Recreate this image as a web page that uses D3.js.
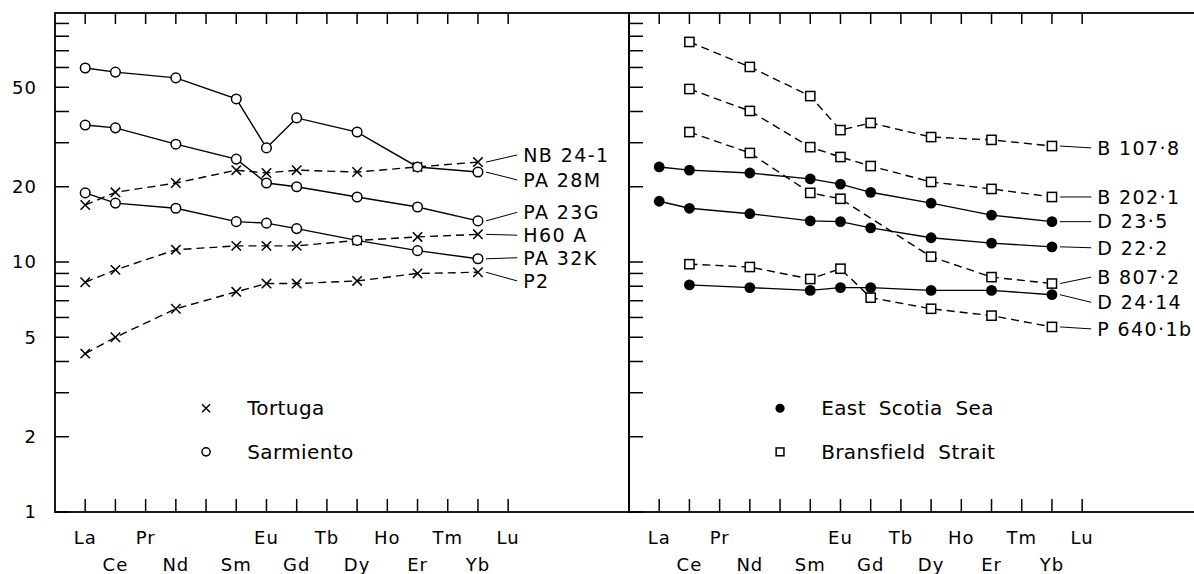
<!DOCTYPE html>
<html lang="en">
<head>
<meta charset="UTF-8">
<title>REE patterns</title>
<script src="https://d3js.org/d3.v7.min.js"></script>
<style>
    body { margin: 0; background: #fff; }
    svg { display: block; font-family: "DejaVu Sans", sans-serif; }
    .frame { fill: none; stroke: #000; stroke-width: 1.8px; }
    .tick { stroke: #000; stroke-width: 1.5px; }
    .line { fill: none; stroke: #000; stroke-width: 1.4px; }
    .dashed { stroke-dasharray: 8 5; }
    .leader { stroke: #000; stroke-width: 1px; }
    .xlab { font-size: 18px; letter-spacing: 1px; }
    .slab { font-size: 19px; letter-spacing: 1.4px; }
    .leg { font-size: 20px; letter-spacing: 0.4px; word-spacing: 6px; }
</style>
</head>
<body>
<div id="chart"></div>
<script>
    // element positions on the x axis (Pm has a tick but no label)
    const elements = ["La", "Ce", "Pr", "Nd", "Pm", "Sm", "Eu", "Gd", "Tb", "Dy", "Ho", "Er", "Tm", "Yb", "Lu"];
    const labelsTop = ["La", "Pr", "Eu", "Tb", "Ho", "Tm", "Lu"];
    const labelsBottom = ["Ce", "Nd", "Sm", "Gd", "Dy", "Er", "Yb"];
    const yLabels = [1, 2, 5, 10, 20, 50];

    // measured elements, values normalised to chondrite
    const ree = ["La", "Ce", "Nd", "Sm", "Eu", "Gd", "Dy", "Er", "Yb"];

    // Tortuga (crosses, dashed)
    const nb241 = [16.9, 19.0, 20.7, 23.3, 22.7, 23.3, 22.9, 24.0, 25.1];
    const h60a  = [8.3, 9.3, 11.2, 11.6, 11.6, 11.6, 12.2, 12.6, 12.9];
    const p2    = [4.3, 5.0, 6.5, 7.6, 8.2, 8.2, 8.4, 9.0, 9.1];
    // Sarmiento (open circles, solid)
    const pa28m = [59.7, 57.5, 54.5, 44.9, 28.6, 37.7, 33.1, 24.0, 22.9];
    const pa23g = [35.3, 34.4, 29.6, 25.8, 20.7, 20.0, 18.2, 16.6, 14.6];
    const pa32k = [18.9, 17.2, 16.4, 14.5, 14.3, 13.6, 12.2, 11.1, 10.3];
    // East Scotia Sea (filled circles, solid)
    const d235  = [24.0, 23.3, 22.7, 21.5, 20.5, 19.0, 17.2, 15.4, 14.5];
    const d222  = [17.5, 16.4, 15.6, 14.6, 14.5, 13.7, 12.5, 11.9, 11.5];
    const d2414 = [null, 8.1, 7.9, 7.7, 7.9, 7.9, 7.7, 7.7, 7.4];
    // Bransfield Strait (open squares, dashed)
    const b1078  = [null, 75.9, 60.3, 46.1, 33.7, 36.0, 31.6, 30.8, 29.1];
    const b2021  = [null, 49.2, 40.2, 28.8, 26.3, 24.2, 20.9, 19.6, 18.2];
    const b8072  = [null, 33.1, 27.3, 18.9, 17.9, null, 10.5, 8.7, 8.2];
    const p6401b = [null, 9.8, 9.55, 8.55, 9.4, 7.2, 6.5, 6.1, 5.5];

    const leftSeries = [
        { name: "NB 24-1", values: nb241, mark: "cross", dashed: true, labelAt: 26.8 },
        { name: "PA 28M", values: pa28m, mark: "circle", dashed: false, labelAt: 21.3 },
        { name: "PA 23G", values: pa23g, mark: "circle", dashed: false, labelAt: 15.8 },
        { name: "H60 A", values: h60a, mark: "cross", dashed: true, labelAt: 12.8 },
        { name: "PA 32K", values: pa32k, mark: "circle", dashed: false, labelAt: 10.4 },
        { name: "P2", values: p2, mark: "cross", dashed: true, labelAt: 8.4 }
    ];
    const rightSeries = [
        { name: "B 107·8", values: b1078, mark: "square", dashed: true, labelAt: 28.6 },
        { name: "B 202·1", values: b2021, mark: "square", dashed: true, labelAt: 18.2 },
        { name: "D 23·5", values: d235, mark: "dot", dashed: false, labelAt: 14.5 },
        { name: "D 22·2", values: d222, mark: "dot", dashed: false, labelAt: 11.4 },
        { name: "B 807·2", values: b8072, mark: "square", dashed: true, labelAt: 8.7 },
        { name: "D 24·14", values: d2414, mark: "dot", dashed: false, labelAt: 6.9 },
        { name: "P 640·1b", values: p6401b, mark: "square", dashed: true, labelAt: 5.4 }
    ];
    const leftLegend = [{ mark: "cross", text: "Tortuga", at: 2.6 }, { mark: "circle", text: "Sarmiento", at: 1.74 }];
    const rightLegend = [{ mark: "dot", text: "East Scotia Sea", at: 2.6 }, { mark: "square", text: "Bransfield Strait", at: 1.74 }];

    const W = 1194, H = 574;
    const plotTop = 13, plotBottom = 512, panelW = 574;

    const svg = d3.select("#chart").append("svg")
        .attr("width", W).attr("height", H);

    const y = d3.scaleLog().domain([1, 100]).range([plotBottom, plotTop - 1]);
    const yTicks = d3.range(1, 10).concat(d3.range(10, 100, 10));

    function drawMark(g, type, cx, cy, small) {
        const s = small ? 0.85 : 1;
        if (type === "cross") {
            const r = 4.7 * s;
            g.append("path")
                .attr("d", `M${cx - r},${cy - r}L${cx + r},${cy + r}M${cx - r},${cy + r}L${cx + r},${cy - r}`)
                .attr("stroke", "#000").attr("stroke-width", 1.5);
        } else if (type === "circle") {
            g.append("circle").attr("cx", cx).attr("cy", cy).attr("r", 4.8 * s)
                .attr("fill", "#fff").attr("stroke", "#000").attr("stroke-width", 1.5);
        } else if (type === "dot") {
            g.append("circle").attr("cx", cx).attr("cy", cy).attr("r", 5.4 * s)
                .attr("fill", "#000");
        } else {
            const h = 4.6 * s;
            g.append("rect").attr("x", cx - h).attr("y", cy - h).attr("width", 2 * h).attr("height", 2 * h)
                .attr("fill", "#fff").attr("stroke", "#000").attr("stroke-width", 1.5);
        }
    }

    function drawPanel(x0, series, legend, showYLabels) {
        const x = d3.scaleLinear().domain([-1, 18]).range([x0, x0 + panelW]);
        const g = svg.append("g");

        g.append("rect").attr("class", "frame")
            .attr("x", x0).attr("y", plotTop).attr("width", panelW).attr("height", plotBottom - plotTop);

        // y ticks pointing inwards
        g.selectAll(".ytick").data(yTicks).enter().append("line")
            .attr("class", "tick")
            .attr("x1", x0).attr("x2", x0 + 14)
            .attr("y1", d => y(d)).attr("y2", d => y(d));

        if (showYLabels) {
            g.selectAll(".ylab").data(yLabels).enter().append("text")
                .attr("x", x0 - 18).attr("y", d => y(d)).attr("dy", "0.36em")
                .attr("text-anchor", "end").attr("font-size", 18).attr("letter-spacing", 1)
                .text(d => d);
        }

        // x ticks top and bottom
        g.selectAll(".xb").data(elements).enter().append("line")
            .attr("class", "tick")
            .attr("x1", (d, i) => x(i)).attr("x2", (d, i) => x(i))
            .attr("y1", plotBottom).attr("y2", plotBottom - 13);
        g.selectAll(".xt").data(elements).enter().append("line")
            .attr("class", "tick")
            .attr("x1", (d, i) => x(i)).attr("x2", (d, i) => x(i))
            .attr("y1", plotTop).attr("y2", plotTop + 11);

        g.selectAll(".lt").data(labelsTop).enter().append("text")
            .attr("class", "xlab")
            .attr("x", d => x(elements.indexOf(d))).attr("y", 544)
            .attr("text-anchor", "middle").text(d => d);
        g.selectAll(".lb").data(labelsBottom).enter().append("text")
            .attr("class", "xlab")
            .attr("x", d => x(elements.indexOf(d))).attr("y", 571)
            .attr("text-anchor", "middle").text(d => d);

        const line = d3.line()
            .x(d => x(elements.indexOf(d.el)))
            .y(d => y(d.v));

        series.forEach(s => {
            const pts = ree.map((el, i) => ({ el, v: s.values[i] })).filter(d => d.v != null);
            g.append("path").datum(pts)
                .attr("class", "line" + (s.dashed ? " dashed" : ""))
                .attr("d", line);
        });

        series.forEach(s => {
            ree.forEach((el, i) => {
                if (s.values[i] == null) return;
                drawMark(g, s.mark, x(elements.indexOf(el)), y(s.values[i]));
            });
            const last = s.values[s.values.length - 1];
            const xe = x(elements.indexOf("Yb"));
            g.append("line").attr("class", "leader")
                .attr("x1", xe + 8).attr("y1", y(last))
                .attr("x2", x(14.3)).attr("y2", y(s.labelAt));
            g.append("text").attr("class", "slab")
                .attr("x", x(14.5)).attr("y", y(s.labelAt)).attr("dy", "0.36em")
                .text(s.name);
        });

        legend.forEach(l => {
            drawMark(g, l.mark, x(4), y(l.at), true);
            g.append("text").attr("class", "leg")
                .attr("x", x(5.36)).attr("y", y(l.at)).attr("dy", "0.36em")
                .text(l.text);
        });
    }

    drawPanel(55, leftSeries, leftLegend, true);
    drawPanel(55 + panelW, rightSeries, rightLegend, false);
</script>
</body>
</html>
